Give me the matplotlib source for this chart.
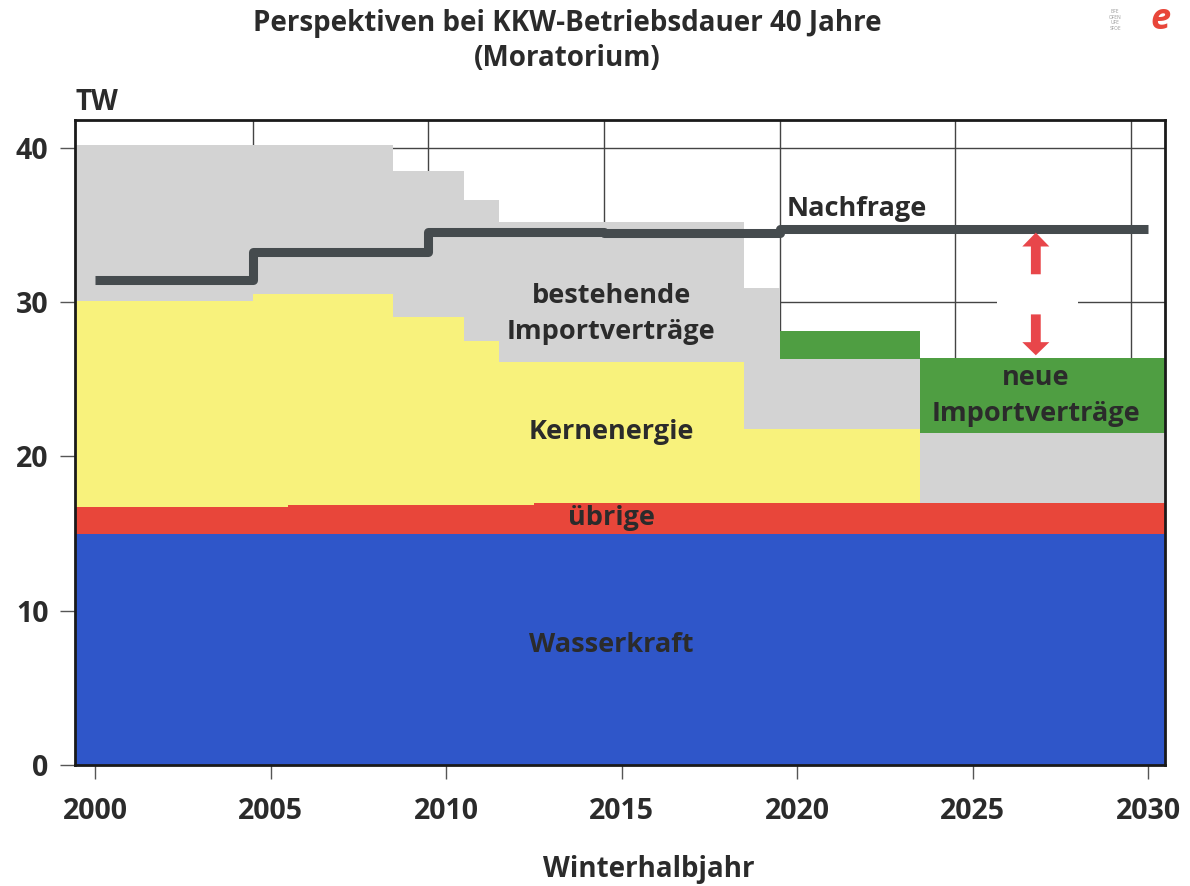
import matplotlib.pyplot as plt
import numpy as np
from matplotlib.patches import FancyArrow, Rectangle

# step periods (winter half years), each value holds until the next start
period_start = [1999.4, 2002.5, 2004.5, 2005.5, 2008.5, 2010.5, 2011.5, 2012.5, 2018.5, 2019.5, 2023.5]
period_end = 2030.6

wasserkraft = [15.0, 15.0, 15.0, 15.0, 15.0, 15.0, 15.0, 15.0, 15.0, 15.0, 15.0]
uebrige = [1.7, 1.75, 1.75, 1.85, 1.85, 1.85, 1.85, 1.95, 1.95, 2.0, 2.0]
kernenergie = [13.4, 13.35, 13.75, 13.65, 12.15, 10.65, 9.25, 9.15, 4.85, 4.8, 0.0]
bestehende_import = [10.1, 10.1, 9.7, 9.7, 9.5, 9.1, 9.1, 9.1, 9.1, 4.5, 4.5]
neue_import = [0.0, 0.0, 0.0, 0.0, 0.0, 0.0, 0.0, 0.0, 0.0, 1.85, 4.9]

nachfrage_x = [2000, 2004.5, 2009.5, 2014.5, 2019.5, 2030]
nachfrage_y = [31.4, 33.25, 34.55, 34.45, 34.75, 34.75]

year_ticks = [2000, 2005, 2010, 2015, 2020, 2025, 2030]
tw_ticks = [0, 10, 20, 30, 40]

font = "Open Sans"
plt.rcParams['font.family'] = [font, 'DejaVu Sans']
dark = "#2b2b2b"

fig = plt.figure(figsize=(11.9, 8.86), dpi=100)
ax = fig.add_axes([0.063, 0.1366, 0.916, 0.728])

x = np.array(period_start + [period_end])
layers = [
    (wasserkraft, "#2f56c9"),
    (uebrige, "#e8463a"),
    (kernenergie, "#f8f27c"),
    (bestehende_import, "#d3d3d3"),
    (neue_import, "#4f9e42"),
]
base = np.zeros(len(period_start))
for vals, col in layers:
    top = base + np.array(vals)
    ax.fill_between(x, np.append(base, base[-1]), np.append(top, top[-1]),
                    step="post", color=col, linewidth=0, zorder=2)
    base = top

# grid (vertical lines sit half a year before the tick years)
for gy in tw_ticks[1:]:
    ax.axhline(gy, color="#444444", lw=1, zorder=1)
for gx in [2004.5, 2009.5, 2014.5, 2019.5, 2024.5, 2029.5]:
    ax.axvline(gx, color="#444444", lw=1, zorder=1)
ax.add_patch(Rectangle((2025.7, 29.5), 2.3, 1.0, color="white", zorder=1.5, lw=0))

ax.step(nachfrage_x, nachfrage_y, where="post", color="#454b4e", lw=6.5,
        solid_joinstyle="round", solid_capstyle="butt", zorder=4)

# arrows between demand and supply
arrow_col = "#e8464a"
ax.add_patch(FancyArrow(2026.8, 31.8, 0, 2.7, width=0.28, head_width=0.77, head_length=0.9,
                        length_includes_head=True, color=arrow_col, lw=0, zorder=5))
ax.add_patch(FancyArrow(2026.8, 29.2, 0, -2.65, width=0.28, head_width=0.77, head_length=0.85,
                        length_includes_head=True, color=arrow_col, lw=0, zorder=5))

lab = dict(fontsize=19.5, fontweight="bold", color=dark, ha="center", va="center", zorder=6)
ax.text(2021.7, 36.0, "Nachfrage", **lab)
ax.text(2014.7, 29.2, "bestehende\nImportverträge", linespacing=1.5, **lab)
ax.text(2014.7, 21.6, "Kernenergie", **lab)
ax.text(2014.7, 16.0, "übrige", **lab)
ax.text(2014.7, 7.8, "Wasserkraft", **lab)
ax.text(2026.8, 23.9, "neue\nImportverträge", linespacing=1.5, **lab)

ax.set_xlim(1999.43, 2030.48)
ax.set_ylim(0, 41.8)
ax.set_xticks(year_ticks)
ax.set_yticks(tw_ticks)
ax.tick_params(axis="x", length=10, width=1, color="#555555", pad=13, labelsize=20.5)
ax.tick_params(axis="y", length=11, width=1, color="#555555", pad=8, labelsize=20.5)
for t in ax.get_xticklabels() + ax.get_yticklabels():
    t.set_fontweight("bold")
    t.set_color(dark)
for s in ax.spines.values():
    s.set_linewidth(2)
    s.set_color("#1a1a1a")
    s.set_zorder(7)

fig.text(567 / 1190, 1 - 23 / 886, "Perspektiven bei KKW-Betriebsdauer 40 Jahre",
         fontsize=20, fontweight="bold", color=dark, ha="center", va="center")
fig.text(567 / 1190, 1 - 59 / 886, "(Moratorium)",
         fontsize=20, fontweight="bold", color=dark, ha="center", va="center")
fig.text(76 / 1190, 1 - 103 / 886, "TW", fontsize=20, fontweight="bold",
         color=dark, ha="left", va="center")
fig.text(649 / 1190, 1 - 869 / 886, "Winterhalbjahr", fontsize=20, fontweight="bold",
         color=dark, ha="center", va="center")

# small logo top right
fig.text(1115 / 1190, 1 - 20 / 886, "BFE\nOFEN\nUFE\nSFOE", fontsize=3.5, color="#999999",
         ha="center", va="center", linespacing=1.1)
fig.text(1160 / 1190, 1 - 20 / 886, "e", fontsize=26, fontweight="bold", color="#e8463a",
         ha="center", va="center", style="italic")

fig.savefig("out.png", dpi=100)
